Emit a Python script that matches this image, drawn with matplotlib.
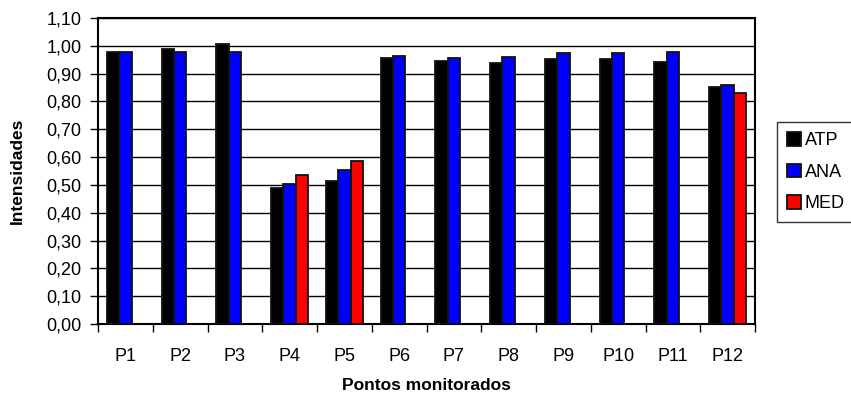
import numpy as np
import matplotlib.pyplot as plt

plt.rcParams["font.family"] = ["Liberation Sans", "DejaVu Sans"]

pontos = ["P1", "P2", "P3", "P4", "P5", "P6", "P7", "P8", "P9", "P10", "P11", "P12"]
atp = [0.978, 0.989, 1.007, 0.489, 0.514, 0.955, 0.945, 0.937, 0.952, 0.953, 0.943, 0.852]
ana = [0.978, 0.978, 0.978, 0.504, 0.554, 0.965, 0.957, 0.960, 0.975, 0.975, 0.976, 0.860]
med = [np.nan, np.nan, np.nan, 0.536, 0.586, np.nan, np.nan, np.nan, np.nan, np.nan, np.nan, 0.831]

series = [("ATP", atp, "#000000"), ("ANA", ana, "#0000FF"), ("MED", med, "#FF0000")]


def main():
    fig = plt.figure(figsize=(8.51, 4.0), dpi=100)
    ax = fig.add_axes([0.1152, 0.19, 0.772, 0.765])

    x = np.arange(len(pontos))
    w = 0.225
    for i, (name, vals, color) in enumerate(series):
        ax.bar(x + (i - 1) * w, vals, w, color=color, edgecolor="#111111",
               linewidth=1.3, label=name, zorder=3)

    ax.set_xlim(-0.5, len(pontos) - 0.5)
    ax.set_ylim(0, 1.1)
    yt = np.arange(0, 1.101, 0.1)
    ax.set_yticks(yt)
    ax.set_yticklabels([f"{v:.2f}".replace(".", ",") for v in yt])
    ax.yaxis.grid(True, color="black", linewidth=1.0, zorder=0)

    # ticks at category boundaries, labels at centers
    ax.set_xticks(np.arange(-0.5, len(pontos), 1.0))
    ax.set_xticklabels([])
    ax.set_xticks(x, minor=True)
    ax.set_xticklabels(pontos, minor=True)
    ax.tick_params(axis="x", which="minor", length=0, pad=17, labelsize=13)
    ax.tick_params(axis="x", which="major", length=6, width=1.0, direction="out")
    ax.tick_params(axis="y", length=6, width=1.0, pad=6, labelsize=13)

    for s in ax.spines.values():
        s.set_linewidth(1.5)
        s.set_color("black")

    ax.set_ylabel("Intensidades", fontsize=12.5, fontweight="bold", labelpad=15)
    ax.set_xlabel("Pontos monitorados", fontsize=12.5, fontweight="bold", labelpad=10)

    leg = ax.legend(loc="upper left", bbox_to_anchor=(777 / 851, 278 / 400),
                    bbox_transform=fig.transFigure, frameon=True, fancybox=False,
                    edgecolor="black", fontsize=13, handlelength=0.8,
                    handleheight=0.8, handletextpad=0.2, labelspacing=0.8,
                    borderpad=0.55, borderaxespad=0)
    leg.get_frame().set_linewidth(1.0)

    fig.savefig("out.png", dpi=100)


if __name__ == "__main__":
    main()
